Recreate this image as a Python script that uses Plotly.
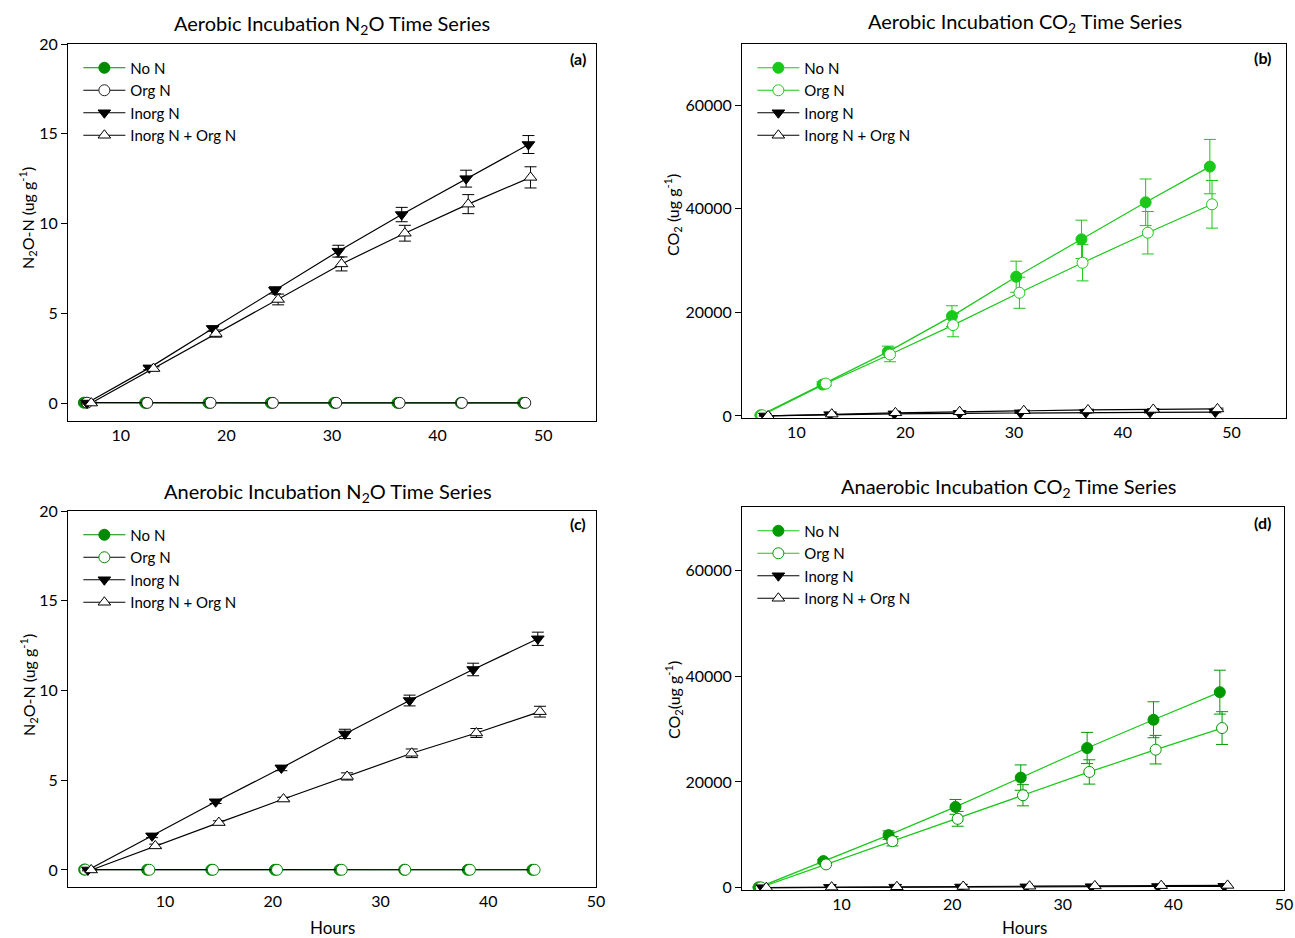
import plotly.graph_objects as go

# ---------------- data ----------------
series_names = ["No N", "Org N", "Inorg N", "Inorg N + Org N"]

# (a) Aerobic N2O
a_x_non = [6.5, 12.3, 18.3, 24.2, 30.2, 36.2, 42.2, 48.1]
a_x_org = [6.8, 12.5, 18.5, 24.4, 30.4, 36.4, 42.3, 48.3]
a_x_inorg = [6.8, 12.7, 18.7, 24.6, 30.6, 36.6, 42.7, 48.6]
a_x_both = [7.2, 13.1, 19.0, 24.9, 30.9, 36.9, 42.9, 48.8]
a_non = [0.02, 0.01, 0.01, 0.01, 0.01, 0.01, 0.01, 0.01]
a_org = [0.02, 0.01, 0.01, 0.01, 0.01, 0.01, 0.01, 0.01]
a_inorg = [0.0, 1.96, 4.15, 6.28, 8.46, 10.5, 12.5, 14.4]
a_inorg_err = [0.05, 0.1, 0.15, 0.2, 0.33, 0.4, 0.47, 0.5]
a_both = [0.0, 1.92, 3.87, 5.77, 7.75, 9.46, 11.08, 12.57]
a_both_err = [0.05, 0.1, 0.2, 0.3, 0.39, 0.44, 0.53, 0.59]

# (b) Aerobic CO2
b_x_non = [6.7, 12.4, 18.4, 24.3, 30.2, 36.2, 42.1, 48.0]
b_x_org = [6.85, 12.7, 18.6, 24.4, 30.5, 36.3, 42.3, 48.2]
b_x_inorg = [7.1, 13.1, 19.0, 25.0, 30.6, 36.6, 42.5, 48.5]
b_x_both = [7.4, 13.25, 19.1, 25.0, 30.9, 36.8, 42.8, 48.7]
b_non = [130, 6060, 12370, 19270, 26870, 34090, 41240, 48130]
b_non_err = [100, 500, 1100, 2000, 3000, 3700, 4500, 5250]
b_org = [130, 6250, 11860, 17530, 23780, 29570, 35370, 40850]
b_org_err = [100, 400, 1400, 2250, 3000, 3500, 4100, 4600]
b_inorg = [0, 250, 400, 500, 600, 650, 700, 750]
b_inorg_err = [20, 40, 60, 80, 100, 110, 120, 130]
b_both = [0, 350, 600, 800, 1000, 1150, 1250, 1350]
b_both_err = [20, 50, 80, 100, 120, 140, 150, 160]

# (c) Anaerobic N2O
c_x_non = [2.5, 8.35, 14.3, 20.2, 26.2, 32.2, 38.1, 44.1]
c_x_org = [2.6, 8.55, 14.45, 20.4, 26.4, 32.3, 38.3, 44.3]
c_x_inorg = [2.85, 8.8, 14.7, 20.8, 26.7, 32.7, 38.6, 44.6]
c_x_both = [3.15, 9.1, 15.0, 21.0, 26.9, 32.9, 38.9, 44.8]
c_non = [0.02, 0.01, 0.01, 0.01, 0.01, 0.01, 0.01, 0.01]
c_org = [0.02, 0.01, 0.01, 0.01, 0.01, 0.01, 0.01, 0.01]
c_inorg = [0.0, 1.90, 3.80, 5.68, 7.58, 9.44, 11.17, 12.88]
c_inorg_err = [0.05, 0.1, 0.1, 0.15, 0.26, 0.3, 0.35, 0.37]
c_both = [0.0, 1.34, 2.64, 3.95, 5.21, 6.5, 7.63, 8.82]
c_both_err = [0.05, 0.1, 0.1, 0.1, 0.2, 0.24, 0.25, 0.3]

# (d) Anaerobic CO2
d_x_non = [2.5, 8.35, 14.25, 20.3, 26.2, 32.2, 38.2, 44.2]
d_x_org = [2.7, 8.6, 14.6, 20.5, 26.4, 32.4, 38.4, 44.4]
d_x_inorg = [2.85, 8.95, 14.85, 20.8, 26.7, 32.6, 38.6, 44.6]
d_x_both = [3.2, 9.1, 15.0, 21.0, 27.0, 32.9, 38.9, 44.9]
d_non = [60, 5030, 9940, 15280, 20820, 26420, 31760, 36980]
d_non_err = [100, 300, 800, 1400, 2400, 2950, 3400, 4150]
d_org = [60, 4400, 8800, 13020, 17480, 21890, 26100, 30190]
d_org_err = [100, 200, 900, 1400, 2000, 2300, 2700, 3100]
d_inorg = [0, 60, 100, 130, 160, 190, 220, 250]
d_both = [0, 100, 170, 230, 280, 330, 380, 430]

n2o_ticks = [0, 5, 10, 15, 20]
co2_ticks = [0, 20000, 40000, 60000]
x_ticks = [10, 20, 30, 40, 50]

# ---------------- styling ----------------
FONT = "Lato"
DK_GREEN = "#008a00"
BR_GREEN = "#19c819"
D_MARK = "#009a00"

W, H = 1295, 938
def fx(px):
    return px / W
def fy(py):
    return 1 - py / H

dom = {
    "a": ([fx(68), fx(596)], [fy(421), fy(44)]),
    "b": ([fx(742), fx(1286)], [fy(418), fy(44)]),
    "c": ([fx(68), fx(596)], [fy(887), fy(511)]),
    "d": ([fx(742), fx(1284)], [fy(890), fy(507)]),
}

fig = go.Figure()

def err(arr, color):
    return dict(type="data", array=arr, visible=True, color=color, thickness=1, width=6)

def add_panel(xa, ya, leg, specs):
    for s in specs:
        fig.add_trace(go.Scatter(
            x=s["x"], y=s["y"], name=s["name"], mode="lines+markers",
            xaxis=xa, yaxis=ya, legend=leg,
            line=dict(color=s["lc"], width=1.2),
            marker=dict(symbol=s["sym"], size=s.get("size", 11), color=s["fc"],
                        line=dict(color=s["ec"], width=1)),
            error_y=err(s["err"], s["errc"]) if s.get("err") else None,
            showlegend=True,
        ))

# (a)
add_panel("x", "y", "legend", [
    dict(x=a_x_non, y=a_non, name=series_names[0], lc=DK_GREEN, sym="circle", fc=DK_GREEN, ec=DK_GREEN),
    dict(x=a_x_org, y=a_org, name=series_names[1], lc="black", sym="circle", fc="white", ec="#222222"),
    dict(x=a_x_inorg, y=a_inorg, name=series_names[2], lc="black", sym="triangle-down", fc="black", ec="black",
         err=a_inorg_err, errc="black"),
    dict(x=a_x_both, y=a_both, name=series_names[3], lc="black", sym="triangle-up", fc="white", ec="black",
         err=a_both_err, errc="black"),
])
# (b)
add_panel("x2", "y2", "legend2", [
    dict(x=b_x_non, y=b_non, name=series_names[0], lc=BR_GREEN, sym="circle", fc=BR_GREEN, ec=BR_GREEN,
         err=b_non_err, errc=BR_GREEN),
    dict(x=b_x_org, y=b_org, name=series_names[1], lc=BR_GREEN, sym="circle", fc="white", ec=BR_GREEN,
         err=b_org_err, errc=BR_GREEN),
    dict(x=b_x_inorg, y=b_inorg, name=series_names[2], lc="black", sym="triangle-down", fc="black", ec="black",
         err=b_inorg_err, errc="black"),
    dict(x=b_x_both, y=b_both, name=series_names[3], lc="black", sym="triangle-up", fc="white", ec="black",
         err=b_both_err, errc="black"),
])
# (c)
add_panel("x3", "y3", "legend3", [
    dict(x=c_x_non, y=c_non, name=series_names[0], lc=DK_GREEN, sym="circle", fc=DK_GREEN, ec=DK_GREEN),
    dict(x=c_x_org, y=c_org, name=series_names[1], lc="black", sym="circle", fc="white", ec=DK_GREEN),
    dict(x=c_x_inorg, y=c_inorg, name=series_names[2], lc="black", sym="triangle-down", fc="black", ec="black",
         err=c_inorg_err, errc="black"),
    dict(x=c_x_both, y=c_both, name=series_names[3], lc="black", sym="triangle-up", fc="white", ec="black",
         err=c_both_err, errc="black"),
])
# (d)
add_panel("x4", "y4", "legend4", [
    dict(x=d_x_non, y=d_non, name=series_names[0], lc=BR_GREEN, sym="circle", fc=D_MARK, ec=D_MARK,
         err=d_non_err, errc=D_MARK),
    dict(x=d_x_org, y=d_org, name=series_names[1], lc=BR_GREEN, sym="circle", fc="white", ec=D_MARK,
         err=d_org_err, errc=D_MARK),
    dict(x=d_x_inorg, y=d_inorg, name=series_names[2], lc="black", sym="triangle-down", fc="black", ec="black"),
    dict(x=d_x_both, y=d_both, name=series_names[3], lc="black", sym="triangle-up", fc="white", ec="black"),
])

axis_common = dict(showline=True, linecolor="black", linewidth=1, mirror=True,
                   showgrid=False, zeroline=False, automargin=False,
                   tickfont=dict(family=FONT, size=16, color="black"))
xax = dict(axis_common, ticks="", tickvals=x_ticks)
yax = dict(axis_common, ticks="outside", ticklen=6, tickcolor="black")

layout = dict(
    template="none",
    width=W, height=H, margin=dict(l=0, r=0, t=0, b=0, autoexpand=False),
    paper_bgcolor="white", plot_bgcolor="white",
    font=dict(family=FONT, size=15, color="black"),
    xaxis=dict(xax, domain=dom["a"][0], range=[5, 55], anchor="y"),
    yaxis=dict(yax, domain=dom["a"][1], range=[-1, 20], tickvals=n2o_ticks, anchor="x"),
    xaxis2=dict(xax, domain=dom["b"][0], range=[5, 55], anchor="y2"),
    yaxis2=dict(yax, domain=dom["b"][1], range=[-400, 71800], tickvals=co2_ticks, tickformat="d", anchor="x2"),
    xaxis3=dict(xax, domain=dom["c"][0], range=[1, 50], anchor="y3"),
    yaxis3=dict(yax, domain=dom["c"][1], range=[-0.95, 20], tickvals=n2o_ticks, anchor="x3"),
    xaxis4=dict(xax, domain=dom["d"][0], range=[1, 50], anchor="y4"),
    yaxis4=dict(yax, domain=dom["d"][1], range=[-440, 72000], tickvals=co2_ticks, tickformat="d", anchor="x4"),
)
for i, k in enumerate(["a", "b", "c", "d"]):
    name = "legend" if i == 0 else f"legend{i+1}"
    layout[name] = dict(x=dom[k][0][0] + 0.008, y=dom[k][1][1] - 0.008, xanchor="left", yanchor="top",
                        bgcolor="rgba(0,0,0,0)", borderwidth=0, itemwidth=42,
                        font=dict(family=FONT, size=15, color="black"),
                        tracegroupgap=0)
fig.update_layout(**layout)

ann = []
titles = [
    ("Aerobic Incubation N<sub>2</sub>O Time Series", 332, 25),
    ("Aerobic Incubation CO<sub>2</sub> Time Series", 1025, 22),
    ("Anerobic Incubation N<sub>2</sub>O Time Series", 328, 492),
    ("Anaerobic Incubation CO<sub>2</sub> Time Series", 1008, 487),
]
for t, x, y in titles:
    ann.append(dict(text=t, x=fx(x), y=fy(y), xref="paper", yref="paper", showarrow=False,
                    xanchor="center", yanchor="middle", font=dict(family=FONT, size=20, color="black")))
ytitles = [
    ("N<sub>2</sub>O-N (ug g<sup>-1</sup>)", 28, 218),
    ("CO<sub>2</sub> (ug g<sup>-1</sup>)", 673, 215),
    ("N<sub>2</sub>O-N (ug g<sup>-1</sup>)", 28, 685),
    ("CO<sub>2</sub>(ug g<sup>-1</sup>)", 673, 700),
]
for t, x, y in ytitles:
    ann.append(dict(text=t, x=fx(x), y=fy(y), xref="paper", yref="paper", showarrow=False, textangle=-90,
                    xanchor="center", yanchor="middle", font=dict(family=FONT, size=16, color="black")))
for x in (333, 1024):
    ann.append(dict(text="Hours", x=fx(x), y=fy(927), xref="paper", yref="paper", showarrow=False,
                    xanchor="center", yanchor="middle", font=dict(family=FONT, size=17, color="black")))
labels = [("(a)", 578, 58), ("(b)", 1262, 57), ("(c)", 578, 523), ("(d)", 1262, 522)]
for t, x, y in labels:
    ann.append(dict(text="<b>" + t + "</b>", x=fx(x), y=fy(y), xref="paper", yref="paper", showarrow=False,
                    xanchor="center", yanchor="middle", font=dict(family=FONT, size=16, color="black")))
fig.update_layout(annotations=ann)

fig.write_html("out.html", config={"displayModeBar": False},
               post_script="document.body.style.margin='0px';document.body.style.overflow='hidden';")
